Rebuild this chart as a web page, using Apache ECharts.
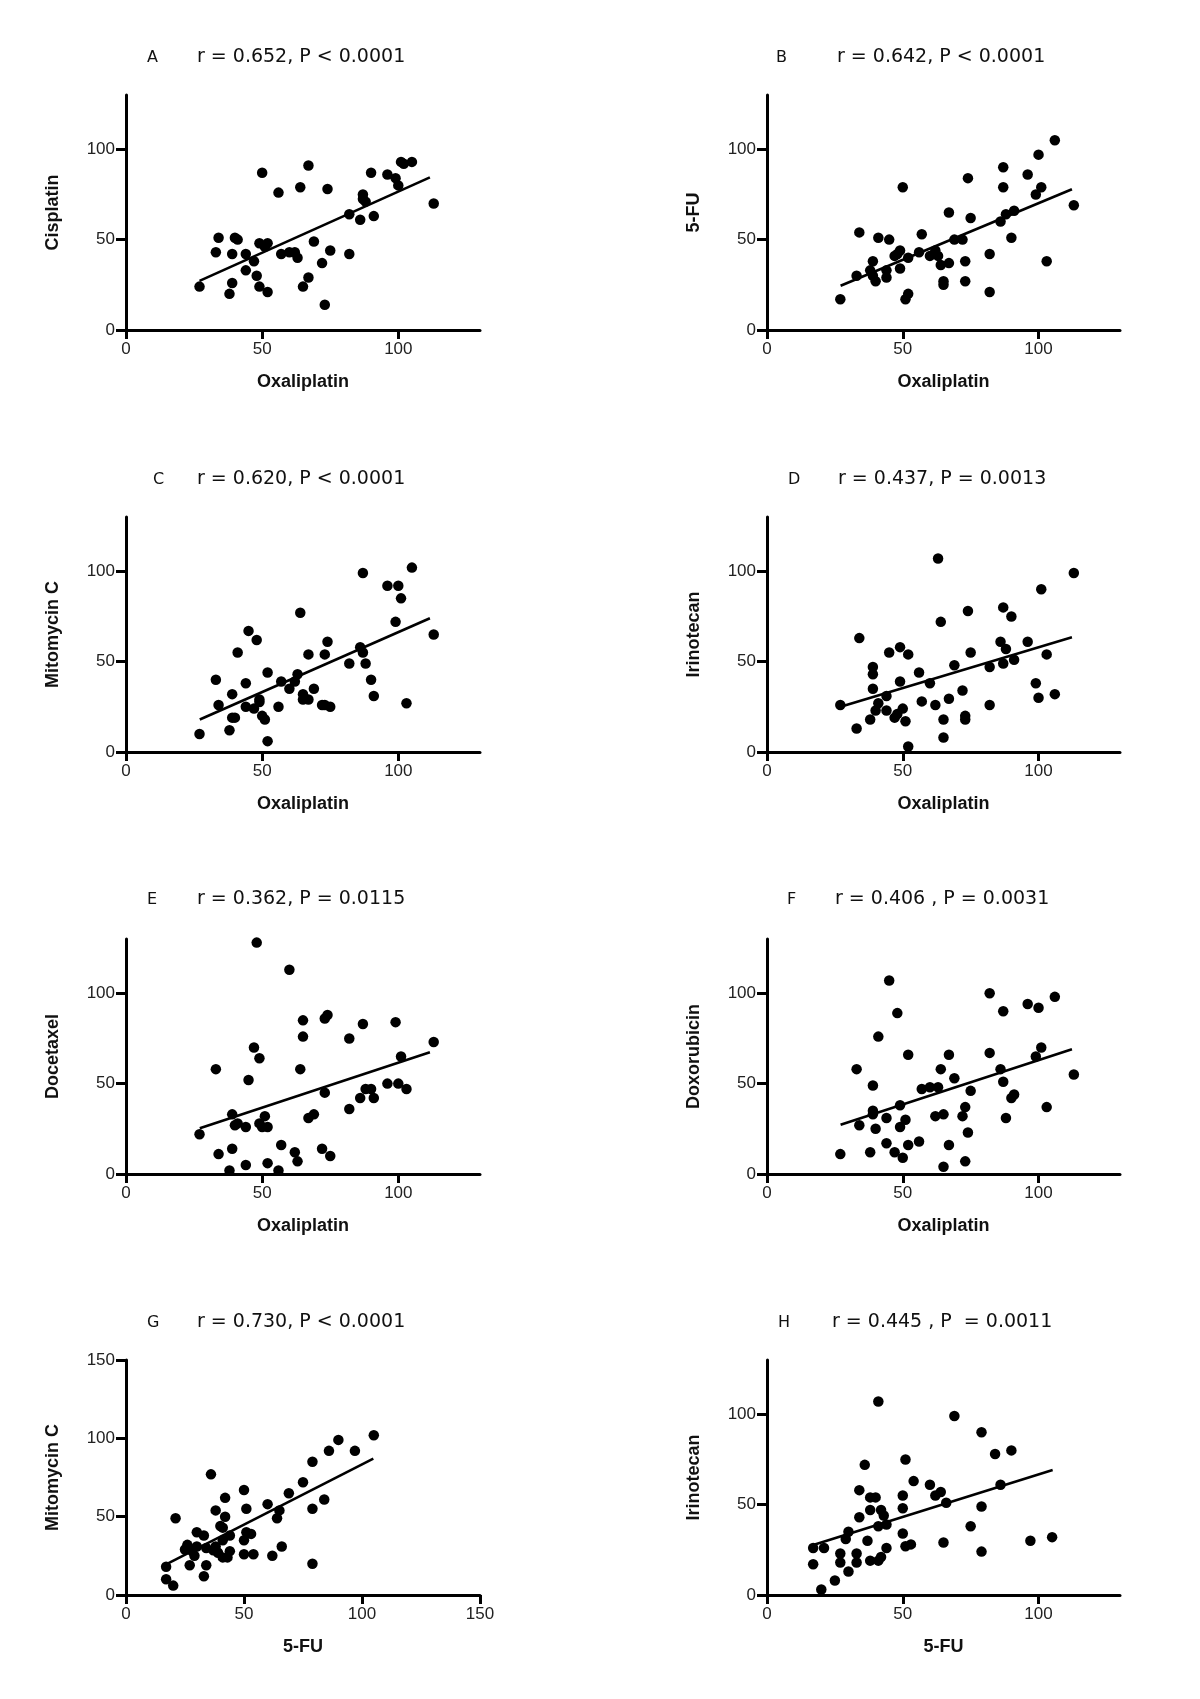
<!DOCTYPE html>
<html>
<head>
<meta charset="utf-8">
<script src="https://cdn.jsdelivr.net/npm/echarts@6/dist/echarts.min.js"></script>
<style>
html,body{margin:0;padding:0;background:#fff;}
#chart{width:1200px;height:1699px;}
</style>
</head>
<body>
<div id="chart"></div>
<script>
// ---------- DATA ----------
const panelLetters = ['A','B','C','D','E','F','G','H'];
const panelStats = [
  'r = 0.652, P < 0.0001',
  'r = 0.642, P < 0.0001',
  'r = 0.620, P < 0.0001',
  'r = 0.437, P = 0.0013',
  'r = 0.362, P = 0.0115',
  'r = 0.406 , P = 0.0031',
  'r = 0.730, P < 0.0001',
  'r = 0.445 , P  = 0.0011'
];
const yNames = ['Cisplatin','5-FU','Mitomycin C','Irinotecan','Docetaxel','Doxorubicin','Mitomycin C','Irinotecan'];
const xNames = ['Oxaliplatin','Oxaliplatin','Oxaliplatin','Oxaliplatin','Oxaliplatin','Oxaliplatin','5-FU','5-FU'];
const axisMax = [130,130,130,130,130,130,150,130];   // x-axis max
const yAxisMax = [130,130,130,130,130,130,150,130];
const xTicks = [[0,50,100],[0,50,100],[0,50,100],[0,50,100],[0,50,100],[0,50,100],[0,50,100,150],[0,50,100]];
const yTicks = [[0,50,100],[0,50,100],[0,50,100],[0,50,100],[0,50,100],[0,50,100],[0,50,100,150],[0,50,100]];

const oxaCisplatin = [[27,24],[33,43],[34,51],[39,42],[39,26],[38,20],[40,51],[41,50],[44,42],[44,33],[47,38],[48,30],[49,24],[49,48],[50,87],[51,46],[52,48],[52,21],[56,76],[57,42],[60,43],[62,43],[63,40],[64,79],[65,24],[67,91],[67,29],[69,49],[72,37],[73,14],[74,78],[75,44],[82,42],[82,64],[86,61],[87,75],[87,72.5],[88,71],[90,87],[91,63],[96,86],[99,84],[100,80],[101,93],[102,92],[105,93],[113,70]];
const oxaFU = [[27,17],[33,30],[34,54],[38,33],[39,38],[39,30],[40,27],[41,51],[44,33],[44,29],[45,50],[47,41],[48,42],[49,44],[49,34],[50,79],[51,17],[52,20],[52,40],[56,43],[57,53],[60,41],[62,44],[63,41],[64,36],[65,27],[65,25],[67,37],[67,65],[69,50],[72,50],[73,38],[73,27],[74,84],[75,62],[82,42],[82,21],[86,60],[87,90],[87,79],[88,64],[90,51],[91,66],[96,86],[99,75],[100,97],[101,79],[103,38],[106,105],[113,69]];
const oxaMitomycin = [[27,10],[33,40],[34,26],[38,12],[39,19],[40,19],[39,32],[41,55],[44,38],[44,25],[45,67],[47,24],[48,62],[49,29],[49,27.6],[50,20],[51,18],[52,44],[52,6],[56,25],[57,39],[60,35],[62,39],[63,43],[64,77],[65,32],[65,29],[67,29],[67,54],[69,35],[72,26],[73,26],[75,25],[73,54],[74,61],[82,49],[86,58],[87,55],[87,99],[88,49],[90,40],[91,31],[96,92],[100,92],[99,72],[101,85],[103,27],[105,102],[113,65]];
const oxaIrinotecan = [[27,26],[33,13],[34,63],[38,18],[39,47],[39,43],[39,35],[40,23],[41,27],[44,31],[44,23],[45,55],[47,19],[48,21],[49,58],[49,39],[50,24],[51,17],[52,54],[52,3],[56,44],[57,28],[60,38],[62,26],[63,107],[64,72],[65,18],[65,8],[67,29.5],[69,48],[72,34],[73,20],[73,18],[74,78],[75,55],[82,47],[82,26],[86,61],[87,80],[87,49],[88,57],[90,75],[91,51],[96,61],[99,38],[100,30],[101,90],[103,54],[106,32],[113,99]];
const oxaDocetaxel = [[27,22],[33,58],[34,11],[38,2],[39,14],[39,33],[40,27],[41,28],[44,26],[44,5],[45,52],[47,70],[48,128],[49,64],[49,28],[50,26],[51,32],[52,26],[52,6],[56,2],[57,16],[60,113],[62,12],[63,7],[64,58],[65,85],[65,76],[67,31],[69,33],[72,14],[73,45],[73,86],[74,88],[75,10],[82,36],[82,75],[86,42],[87,83],[88,47],[90,47],[91,42],[96,50],[99,84],[100,50],[101,65],[103,47],[113,73]];
const oxaDoxorubicin = [[27,11],[33,58],[34,27],[38,12],[39,49],[39,35],[39,33],[40,25],[41,76],[44,31],[44,17],[45,107],[47,12],[48,89],[49,38],[49,26],[50,9],[51,30],[52,66],[52,16],[56,18],[57,47],[60,48],[63,48],[62,32],[64,58],[65,33],[65,4],[67,66],[67,16],[69,53],[72,32],[73,37],[73,7],[74,23],[75,46],[82,100],[82,67],[86,58],[87,90],[87,51],[88,31],[90,42],[91,44],[96,94],[99,65],[100,92],[101,70],[103,37],[106,98],[113,55]];
const fuMitomycin = [[17,18],[17,10],[20,6],[21,49],[25,29],[26,32],[27,19],[28,28],[29,25],[30,40],[30,31],[33,12],[33,38],[34,19],[34,30],[36,77],[37,28.5],[38,54],[38,31],[39,27],[40,44],[41,35],[41,43],[41,24],[42,62],[42,50],[43,24],[44,38],[44,28],[50,67],[50,35],[50,26],[51,55],[51,40],[53,39],[54,26],[60,58],[62,25],[64,49],[65,54],[66,31],[69,65],[75,72],[79,85],[79,55],[79,20],[84,61],[86,92],[90,99],[97,92],[105,102]];
const fuIrinotecan = [[17,26],[17,17],[20,3],[21,26],[25,8],[27,23],[27,18],[29,31],[30,35],[30,13],[33,23],[33,18],[34,43],[34,58],[36,72],[37,30],[38,47],[38,54],[38,19],[40,54],[41,107],[41,38],[41,19],[42,47],[42,21],[43,44],[44,39],[44,26],[50,55],[50,48],[50,34],[51,75],[51,27],[53,28],[54,63],[60,61],[62,55],[64,57],[65,29],[66,51],[69,99],[75,38],[79,90],[79,49],[79,24],[84,78],[86,61],[90,80],[97,30],[105,32]];

// regression line end points
const lineA = [[27,27.2],[111.6,84.4]];
const lineB = [[27.1,24.5],[112.3,77.9]];
const lineC = [[27.1,18],[111.6,74]];
const lineD = [[27.4,25.2],[112.3,63.5]];
const lineE = [[27.1,25.3],[111.6,67.3]];
const lineF = [[27.1,27.3],[112.3,69]];
const lineG = [[17.2,19.7],[104.8,87.1]];
const lineH = [[17,27.7],[105.2,69.2]];

const panelData = [oxaCisplatin, oxaFU, oxaMitomycin, oxaIrinotecan, oxaDocetaxel, oxaDoxorubicin, fuMitomycin, fuIrinotecan];
const panelLines = [lineA, lineB, lineC, lineD, lineE, lineF, lineG, lineH];

// ---------- LAYOUT ----------
const colLeft = [126, 767];
const colWidth = [354, 353];
const rowTop = [95, 517, 939, 1360];
const plotH = 235;
const titleCenter = [54, 476, 896, 1319];
const letterLeft = [142, 771, 148, 783, 142, 782, 142, 773];
const statLeft = [192, 832, 192, 833, 192, 830, 192, 827];

const grids = [], xAxes = [], yAxes = [], series = [], titles = [];
const labelFont = 'Liberation Sans, Arial, sans-serif';

for (let i = 0; i < 8; i++) {
  const col = i % 2, row = Math.floor(i / 2);
  grids.push({left: colLeft[col], top: rowTop[row], width: colWidth[col], height: plotH, containLabel: false});
  const axisCommon = {
    type: 'value', gridIndex: i, min: 0,
    axisLine: {show: true, onZero: false, lineStyle: {color: '#000', width: 3}},
    splitLine: {show: false},
    nameTextStyle: {fontFamily: labelFont, fontWeight: 'bold', fontSize: 18, color: '#111'},
    nameLocation: 'middle'
  };
  xAxes.push(Object.assign({}, axisCommon, {
    max: axisMax[i],
    name: xNames[i], nameGap: 43,
    axisTick: {show: true, length: 9, lineStyle: {color: '#000', width: 3}, customValues: xTicks[i]},
    axisLabel: {fontFamily: labelFont, fontSize: 17, color: '#222', margin: 11, customValues: xTicks[i]}
  }));
  yAxes.push(Object.assign({}, axisCommon, {
    max: yAxisMax[i],
    name: yNames[i], nameGap: 64, nameRotate: 90,
    axisTick: {show: true, length: 10, lineStyle: {color: '#000', width: 3}, customValues: yTicks[i]},
    axisLabel: {fontFamily: labelFont, fontSize: 17, color: '#222', margin: 11, customValues: yTicks[i]}
  }));
  series.push({
    type: 'line', xAxisIndex: i, yAxisIndex: i, data: panelLines[i],
    symbol: 'none', lineStyle: {color: '#000', width: 2.6}, silent: true, z: 2
  });
  series.push({
    type: 'scatter', xAxisIndex: i, yAxisIndex: i, data: panelData[i],
    symbol: 'circle', symbolSize: 10.5, itemStyle: {color: '#000', opacity: 1}, z: 3
  });
  titles.push({
    text: panelLetters[i], left: letterLeft[i], top: titleCenter[row] - 9,
    textStyle: {fontFamily: 'DejaVu Sans, sans-serif', fontSize: 16, fontWeight: 'normal', color: '#111'}
  });
  titles.push({
    text: panelStats[i], left: statLeft[i], top: titleCenter[row] - 11,
    textStyle: {fontFamily: 'DejaVu Sans, sans-serif', fontSize: 19, fontWeight: 'normal', color: '#111'}
  });
}

const chart = echarts.init(document.getElementById('chart'), null, {renderer: 'canvas'});
chart.setOption({
  backgroundColor: '#fff',
  animation: false,
  title: titles,
  grid: grids,
  xAxis: xAxes,
  yAxis: yAxes,
  series: series
});
</script>
</body>
</html>
